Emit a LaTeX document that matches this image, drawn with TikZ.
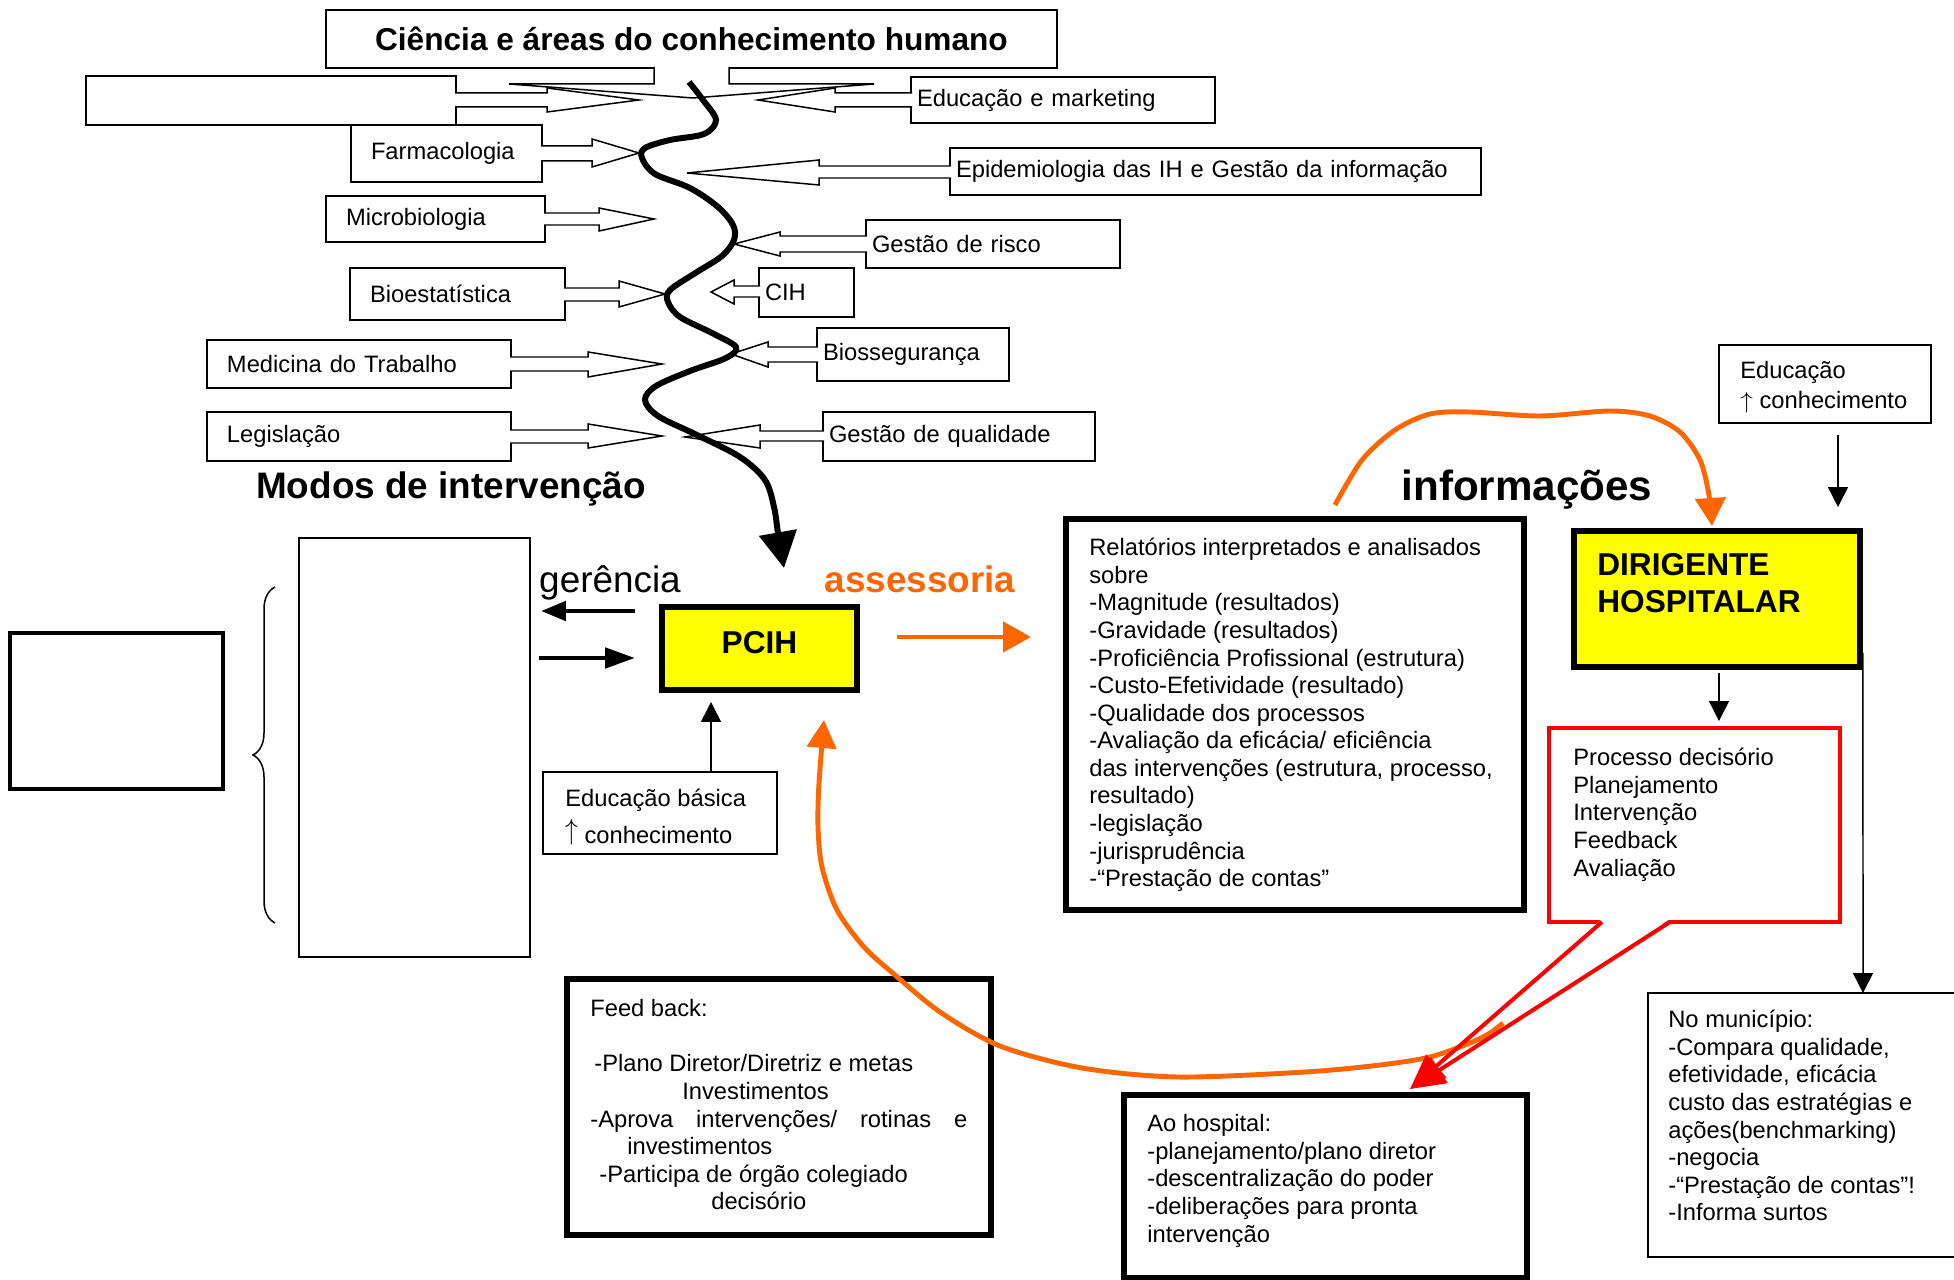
\documentclass[tikz,border=0pt]{standalone}
\usepackage{fontspec}
\setmainfont{Liberation Sans}
\usetikzlibrary{positioning, calc, arrows.meta, decorations.pathreplacing}
\definecolor{laranja}{RGB}{255,102,0}
\definecolor{amarelo}{RGB}{255,255,0}
\definecolor{vermelho}{RGB}{255,0,0}

\begin{document}
\begin{tikzpicture}[
    x=0.02cm, y=-0.02cm,
    lbl/.style={font=\fontsize{13.5}{15.7}\selectfont},
    box/.style={draw, line width=0.85pt, inner sep=0pt, outer sep=0pt, anchor=north west, lbl},
    lbox/.style={box, align=left, inner xsep=0.4cm},
    rbox/.style={box, align=left, inner xsep=0.12cm},
    tbox/.style={box, line width=3pt},
    txt/.style={lbl, anchor=north west, inner sep=0pt, align=left},
    barr/.style={draw, fill=white, line width=0.85pt},
    thinarr/.style={line width=0.85pt, -{Triangle[length=0.4cm, width=0.4cm]}},
    orangearc/.style={laranja, line width=2.8pt, -{Triangle[length=0.56cm, width=0.6cm]}},
    redline/.style={vermelho, line width=2.3pt, -{Triangle[length=0.7cm, width=0.6cm]}}
  ]
  \useasboundingbox (0,0) rectangle (1954,1280);
  \clip (0,0) rectangle (1954,1280);

  % --- upper part: areas of knowledge ---
  \node[box, minimum width=14.62cm, minimum height=1.16cm, font=\fontsize{18}{21}\selectfont\bfseries] (titulo) at (326,10) {Ciência e áreas do conhecimento humano};
  \node[box, minimum width=7.4cm, minimum height=0.98cm] (vazio) at (86,76) {};
  \node[lbox, text width=3.02cm, minimum height=1.14cm] (farma) at (351,125) {Farmacologia};
  \node[lbox, text width=3.58cm, minimum height=0.92cm] (micro) at (326,196) {Microbiologia};
  \node[lbox, text width=3.5cm, minimum height=1.04cm] (bioest) at (350,268) {Bioestatística};
  \node[lbox, text width=5.28cm, minimum height=0.96cm] (medtrab) at (207,340) {Medicina do Trabalho};
  \node[lbox, text width=5.28cm, minimum height=0.98cm] (legis) at (207,412) {Legislação};

  \node[rbox, text width=5.84cm, minimum height=0.92cm] (edumkt) at (911,77) {Educação e marketing};
  \node[rbox, text width=10.38cm, minimum height=0.94cm] (epid) at (950,148) {Epidemiologia das IH e Gestão da informação};
  \node[rbox, text width=4.84cm, minimum height=0.96cm] (risco) at (866,220) {Gestão de risco};
  \node[rbox, text width=1.66cm, minimum height=0.98cm] (cih) at (759,268) {CIH};
  \node[rbox, text width=3.6cm, minimum height=1.06cm] (bioseg) at (817,328) {Biossegurança};
  \node[rbox, text width=5.2cm, minimum height=0.98cm] (qualid) at (823,412) {Gestão de qualidade};

  % block arrows out of the boxes (edge/base/tip, shaft, head, tip y)
  \draw[barr] (654,67) -- (654,84) -- (509,84) -- (693,98) -- (874,84) -- (729,84) -- (729,67);
  \foreach \xa/\xb/\xt/\ya/\yb/\ha/\hb/\yt in {
      455/547/639/93/107/88/112/100, 541/592/639/146/161/139/167/153,
      544/599/654/213/225/208/231/219, 564/619/665/288/301/281/307/294,
      510/588/662/357/371/352/377/364, 510/588/662/430/443/424/448/436,
      912/835/758/93/107/88/112/100, 951/819/687/166/178/160/185/173,
      867/780/734/236/252/232/256/244, 760/734/711/286/297/280/304/292,
      818/768/731/347/362/342/367/354, 824/760/685/431/441/425/448/437}
    \draw[barr] (\xa,\ya) -- (\xb,\ya) -- (\xb,\ha) -- (\xt,\yt) -- (\xb,\hb) -- (\xb,\yb) -- (\xa,\yb);

  \node[font=\fontsize{21}{25}\selectfont\bfseries, anchor=base] (modos) at (451,498) {Modos de intervenção};
  \node[font=\fontsize{24}{28}\selectfont\bfseries, anchor=base] (info) at (1527,500) {informações};

  % --- lower part ---
  \node[box, line width=2.3pt, minimum width=4.26cm, minimum height=3.12cm] (caixa) at (10,633) {};
  \node[box, minimum width=4.62cm, minimum height=8.38cm] (lista) at (299,538) {};
  \draw[line width=0.85pt, decorate, decoration={brace, amplitude=0.44cm}] (275,923) -- (275,587);

  \node[box, fill=amarelo, line width=3pt, minimum width=3.9cm, minimum height=1.66cm, text height=0.46cm, text depth=0.24cm, font=\fontsize{18}{21}\selectfont\bfseries] (pcih) at (662,607) {PCIH};
  \node[font=\fontsize{21}{25}\selectfont, anchor=base] (geren) at (610,592) {gerência};
  \node[font=\fontsize{21}{25}\selectfont\bfseries, text=laranja, anchor=base] (assess) at (920,592) {assessoria};

  \node[box, minimum width=4.68cm, minimum height=1.64cm] (edubas) at (543,772) {};
  \node[txt] (edubastxt) at (565,787) {\strut Educação básica\\[5pt]\smash{\raisebox{2.2pt}{\scalebox{1}[1.15]{$\uparrow$}}} conhecimento};

  \node[tbox, minimum width=9.16cm, minimum height=7.82cm] (relat) at (1066,519) {};
  \node[txt] (relattxt) at (1089,536) {\strut Relatórios interpretados e analisados\\sobre\\-Magnitude (resultados)\\-Gravidade (resultados)\\-Proficiência Profissional (estrutura)\\-Custo-Efetividade (resultado)\\-Qualidade dos processos\\-Avaliação da eficácia/ eficiência\\das intervenções (estrutura, processo,\\resultado)\\-legislação\\-jurisprudência\\-“Prestação de contas”};

  \node[tbox, fill=amarelo, minimum width=5.72cm, minimum height=2.72cm] (dirig) at (1574,531) {};
  \node[txt, font=\fontsize{18}{21}\selectfont\bfseries] (dirigtxt) at (1597,549) {\strut DIRIGENTE\\HOSPITALAR};

  \node[box, minimum width=4.24cm, minimum height=1.56cm] (edusup) at (1719,345) {};
  \node[txt] (edusuptxt) at (1740,359) {\strut Educação\\[1pt]\smash{\scalebox{1}[0.92]{$\uparrow$}} conhecimento};

  \node[box, draw=vermelho, line width=2.5pt, minimum width=5.82cm, minimum height=3.88cm] (decisao) at (1549,728) {};
  \node[txt] (decisaotxt) at (1573,746) {\strut Processo decisório\\Planejamento\\Intervenção\\Feedback\\Avaliação};

  \node[box, minimum width=6.3cm, minimum height=5.28cm] (munic) at (1648,993) {};
  \node[txt] (munictxt) at (1668,1008) {\strut No município:\\-Compara qualidade,\\efetividade, eficácia\\custo das estratégias e\\ações(benchmarking)\\-negocia\\-“Prestação de contas”!\\-Informa surtos};

  \node[tbox, minimum width=8.48cm, minimum height=5.12cm] (feedb) at (567,979) {};
  \node[txt] (feedbtxt) at (590,997) {\strut Feed back:\\[15.7pt]
    \hspace*{0.08cm}-Plano Diretor/Diretriz e metas\\
    \hspace*{1.84cm}Investimentos\\
    \makebox[7.54cm][s]{-Aprova intervenções/ rotinas e}\\
    \hspace*{0.74cm}investimentos\\
    \hspace*{0.18cm}-Participa de órgão colegiado\\
    \hspace*{2.42cm}decisório};

  \node[tbox, minimum width=8.06cm, minimum height=3.66cm] (hosp) at (1124,1095) {};
  \node[txt] (hosptxt) at (1147,1112) {\strut Ao hospital:\\-planejamento/plano diretor\\-descentralização do poder\\-deliberações para pronta\\intervenção};

  % --- connectors ---
  \coordinate (snakeend) at ($(pcih.north west)+(122,-39)$);
  \draw[line width=3.4pt, -{Triangle[length=0.72cm, width=0.74cm]}] plot[smooth, tension=0.55] coordinates {
    (689,82) (703,100) (716,120) (704,134) (670,140) (645,148) (642,158) (655,174) (690,188)
    (718,207) (733,225) (734,240) (722,256) (697,272) (670,290) (668,302) (680,317) (712,333)
    (736,347) (726,358) (690,371) (656,386) (645,400) (658,416) (697,435) (740,457) (765,480)
    (774,507) (778,533) (snakeend)};

  \draw[line width=2.8pt, -{Triangle[length=0.5cm, width=0.38cm]}] ($(pcih.north west)+(-27,4)$) -- ($(lista.north east)+(11,73)$);
  \draw[line width=2.8pt, -{Triangle[length=0.6cm, width=0.4cm]}] ($(lista.north east)+(9,120)$) -- ($(pcih.north west)+(-27,51)$);
  \draw[laranja, line width=2.8pt, -{Triangle[length=0.56cm, width=0.6cm]}] ($(pcih.north east)+(40,30)$) -- ($(relat.north west)+(-35,118)$);
  \draw[thinarr] ($(edubas.north west)+(168,0)$) -- ($(pcih.south west)+(49,12)$);

  \coordinate (arcstart) at ($(relat.north west)+(269,-14)$);
  \coordinate (arcend) at ($(dirig.north west)+(138,-5)$);
  \draw[orangearc] plot[smooth] coordinates {(arcstart) (1362,460) (1395,430) (1430,414) (1470,412)
    (1540,416) (1610,411) (1650,416) (1680,432) (1700,460) (1709,495) (arcend)};

  \draw[thinarr] ($(edusup.south west)+(119,12)$) -- ($(dirig.north west)+(264,-24)$);
  \draw[thinarr] ($(dirig.south west)+(145,6)$) -- ($(decisao.north west)+(170,-7)$);
  \draw[thinarr] ($(dirig.south east)+(3,-14)$) -- ($(munic.north west)+(215,0)$);

  % red pointer of the decision box
  \coordinate (wedgeL) at ($(decisao.south west)+(53,0)$);
  \coordinate (wedgeR) at ($(decisao.south west)+(121,0)$);
  \coordinate (redtip) at ($(hosp.north west)+(286,-6)$);
  \fill[white] ($(wedgeL)+(0,-3)$) -- (redtip) -- ($(wedgeR)+(0,-3)$) -- cycle;

  \coordinate (lowstart) at ($(decisao.south west)+(-46,101)$);
  \coordinate (lowend) at ($(pcih.south west)+(162,30)$);
  \draw[orangearc, -{Triangle[length=0.56cm, width=0.58cm]}] plot[smooth] coordinates {(lowstart)
    (1490,1033) (1470,1043) (1430,1057) (1380,1065) (1305,1072) (1178,1077) (1082,1068) (1000,1046)
    (940,1012) (895,975) (864,947) (837,910) (822,867) (818,827) (819,783) (lowend)};

  \draw[redline] (wedgeL) -- (redtip);
  \draw[redline] (wedgeR) -- (redtip);
\end{tikzpicture}
\end{document}
